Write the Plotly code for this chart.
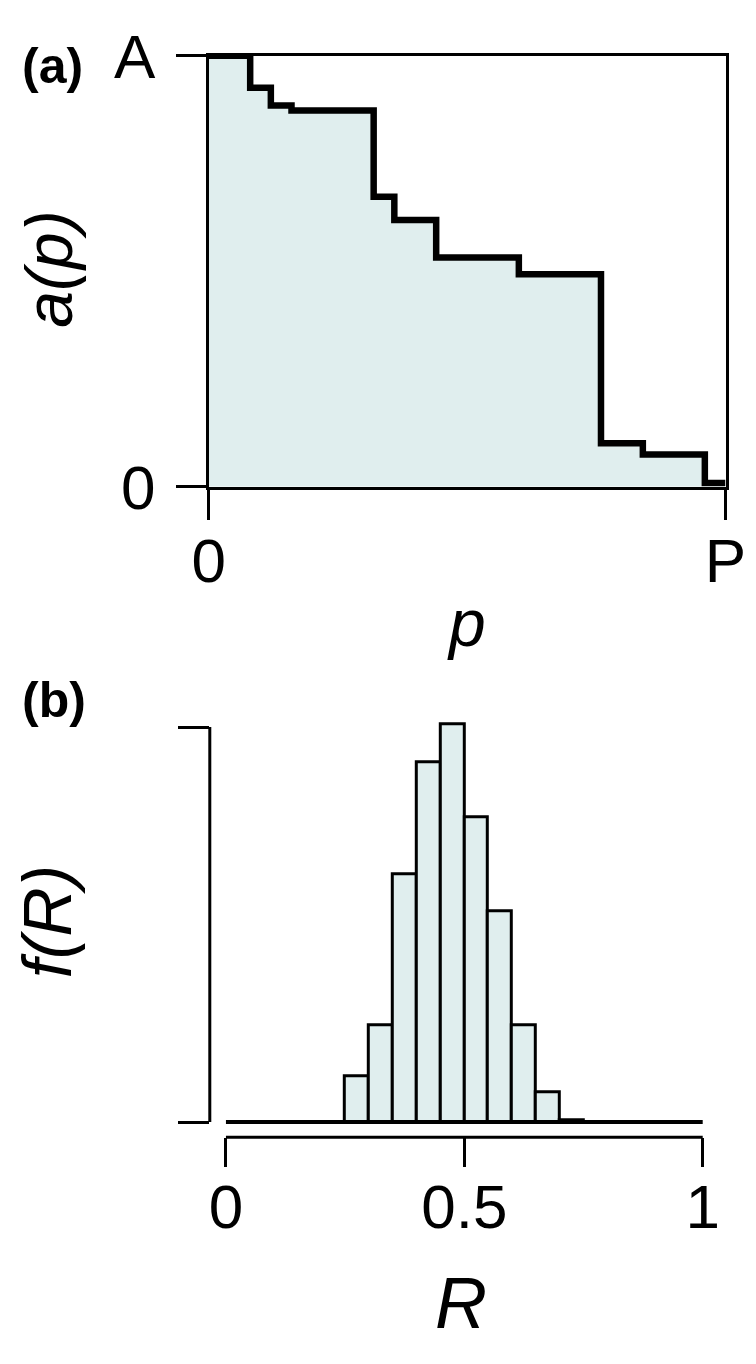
import plotly.graph_objects as go

# ---------------- Panel (a): step function a(p) ----------------
P_STEP_X = [0.0, 0.080, 0.120, 0.160, 0.319, 0.359, 0.440, 0.600, 0.759, 0.840, 0.960, 1.0]
A_STEP_Y = [1.0, 0.926, 0.885, 0.873, 0.673, 0.619, 0.532, 0.493, 0.101, 0.075, 0.009, 0.009]
P_TICKVALS = [0, 1]
P_TICKTEXT = ["0", "P"]
A_TICKVALS = [0, 1]
A_TICKTEXT = ["0", "A"]

# ---------------- Panel (b): histogram f(R) ----------------
R_BIN_LEFT = [0.25, 0.30, 0.35, 0.40, 0.45, 0.50, 0.55, 0.60, 0.65, 0.70]
F_VALUES = [0.116, 0.246, 0.627, 0.912, 1.008, 0.771, 0.535, 0.246, 0.076, 0.005]
BIN_WIDTH = 0.05
R_RANGE = [0, 1]
R_TICKVALS = [0, 0.5, 1]
R_TICKTEXT = ["0", "0.5", "1"]
F_TICKVALS = [0, 1]

W, H = 756, 1364
FILL = "#E0EEEE"
FONT = "Liberation Sans"
TICKFONT = dict(family=FONT, size=62, color="black")
LW = 3


def py(px):
    return 1 - px / H


def pxx(px):
    return px / W


fig = go.Figure()

fig.add_trace(go.Scatter(
    x=P_STEP_X, y=A_STEP_Y, mode="lines", line=dict(shape="hv", color="black", width=6.5),
    fill="tozeroy", fillcolor=FILL, xaxis="x", yaxis="y", hoverinfo="skip"))

bin_centers = [l + BIN_WIDTH / 2 for l in R_BIN_LEFT]
fig.add_trace(go.Bar(
    x=bin_centers, y=F_VALUES, width=BIN_WIDTH,
    marker=dict(color=FILL, line=dict(color="black", width=3)),
    xaxis="x2", yaxis="y2", hoverinfo="skip"))

fig.add_trace(go.Scatter(
    x=R_RANGE, y=[0, 0], mode="lines", line=dict(color="black", width=4),
    xaxis="x2", yaxis="y2", hoverinfo="skip"))

axis_common = dict(showgrid=False, zeroline=False, ticks="outside", tickwidth=LW,
                   tickcolor="black", tickfont=TICKFONT, fixedrange=True,
                   ticklabeloverflow="allow")

# (b) geometry
b_left, b_right = 203, 730
b_x0, b_x1 = 220, 722          # pixel positions of R=0 and R=1
b_top, b_bottom = 721.7, 1162
b_y0, b_y1 = 1146, 730          # pixel positions of f=0 and f=1
xs = (b_x1 - b_x0)
ys = (b_y0 - b_y1)

fig.update_layout(
    width=W, height=H, margin=dict(l=0, r=0, t=0, b=0),
    paper_bgcolor="white", plot_bgcolor="white", showlegend=False, bargap=0,
    xaxis=dict(domain=[pxx(202), pxx(746)], range=[0, 1], tickvals=P_TICKVALS, ticktext=P_TICKTEXT,
               showline=True, linewidth=LW, linecolor="black", mirror=True, ticklen=30,
               ticklabelstandoff=-12, anchor="y", **axis_common),
    yaxis=dict(domain=[py(477), py(23)], range=[0, 1], tickvals=A_TICKVALS, ticktext=A_TICKTEXT,
               showline=True, linewidth=LW, linecolor="black", mirror=True, ticklen=30,
               ticklabelstandoff=8, anchor="x", **axis_common),
    xaxis2=dict(domain=[pxx(b_left), pxx(b_right)],
                range=[(b_left - b_x0) / xs, (b_right - b_x0) / xs],
                tickvals=R_TICKVALS, ticktext=R_TICKTEXT, showline=False, ticklen=29,
                ticklabelstandoff=-14, anchor="y2", **axis_common),
    yaxis2=dict(domain=[py(b_bottom), py(b_top)],
                range=[(b_y0 - b_bottom) / ys, (b_y0 - b_top) / ys],
                tickvals=F_TICKVALS, showticklabels=False, showline=False, ticklen=31,
                anchor="x2", **axis_common),
)

# axis lines spanning only from first to last tick in panel (b)
fig.add_shape(type="line", xref="x2", yref="y2 domain", x0=R_RANGE[0], x1=R_RANGE[1], y0=0, y1=0,
              line=dict(color="black", width=LW))
fig.add_shape(type="line", xref="x2 domain", yref="y2", x0=0, x1=0, y0=F_TICKVALS[0], y1=F_TICKVALS[-1],
              line=dict(color="black", width=LW))

ann = []
ann.append(dict(text="<b>(a)</b>", x=pxx(3), y=py(34), xanchor="left", yanchor="middle",
                font=dict(family=FONT, size=50, color="black")))
ann.append(dict(text="<b>(b)</b>", x=pxx(3), y=py(702), xanchor="left", yanchor="middle",
                font=dict(family=FONT, size=50, color="black")))
ann.append(dict(text="<i>a(p)</i>", x=pxx(34), y=py(248), textangle=-90, xanchor="center",
                yanchor="middle", font=dict(family=FONT, size=66, color="black")))
ann.append(dict(text="<i>f(R)</i>", x=pxx(31), y=py(935), textangle=-90, xanchor="center",
                yanchor="middle", font=dict(family=FONT, size=68, color="black")))
ann.append(dict(text="<i>p</i>", x=pxx(473), y=py(620), xanchor="center", yanchor="middle",
                font=dict(family=FONT, size=66, color="black")))
ann.append(dict(text="<i>R</i>", x=pxx(467), y=py(1337), xanchor="center", yanchor="middle",
                font=dict(family=FONT, size=72, color="black")))
for a in ann:
    a.update(xref="paper", yref="paper", showarrow=False)
fig.update_layout(annotations=ann)

fig.write_html("out.html", config={"displayModeBar": False},
               post_script="document.body.style.margin='0px';document.body.style.overflow='hidden';")
